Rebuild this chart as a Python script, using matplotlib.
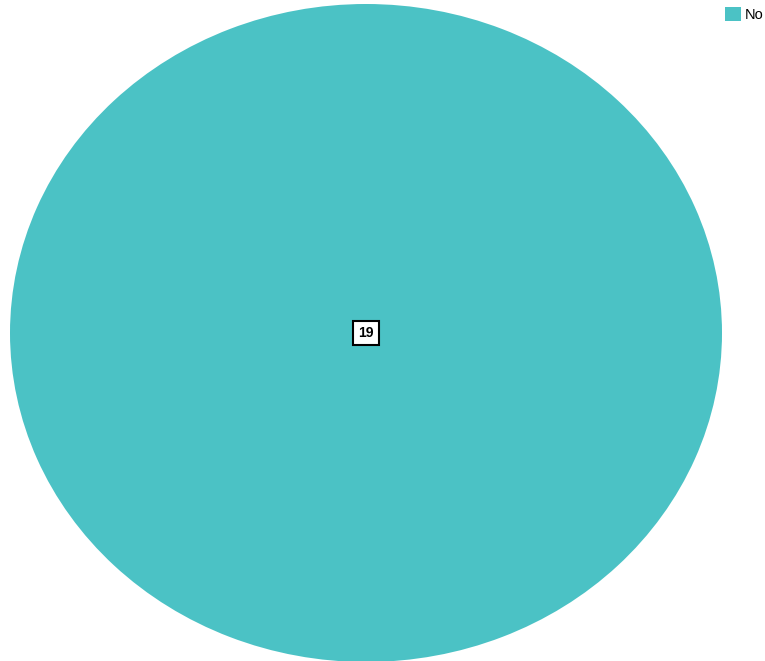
import matplotlib
matplotlib.use("Agg")
import matplotlib.pyplot as plt
from matplotlib.patches import Patch

# Data
labels = ["No"]
counts = [19]
colors = ["#4BC2C5"]

W, H = 765, 661
fig = plt.figure(figsize=(W / 100, H / 100), dpi=100)

# Ellipse spans roughly x 10..722, y 4..662 in pixels
ax = fig.add_axes([10 / W, -1 / H, 712 / W, 658 / H])
wedges, _ = ax.pie(counts, colors=colors, startangle=90, counterclock=False,
                   radius=1.0, wedgeprops={"linewidth": 0})
ax.set_aspect("auto")
ax.set_xlim(-1, 1)
ax.set_ylim(-1, 1)
ax.axis("off")

# Value label in the middle
ax.text(0, 0, str(counts[0]), ha="center", va="center", fontsize=10,
        fontweight="bold", family="Liberation Sans",
        bbox=dict(boxstyle="square,pad=0.35", facecolor="white",
                  edgecolor="black", linewidth=1.5))

# Legend at top right
handles = [Patch(facecolor=c, edgecolor="none") for c in colors]
fig.legend(handles, labels, loc="upper left", bbox_to_anchor=(713 / W, 1 + 5 / H),
           frameon=False, prop={"family": "Liberation Sans", "size": 10.5},
           handlelength=1.1, handleheight=1.1,
           handletextpad=0.25, borderpad=0.3)

fig.savefig("out.png", dpi=100)
